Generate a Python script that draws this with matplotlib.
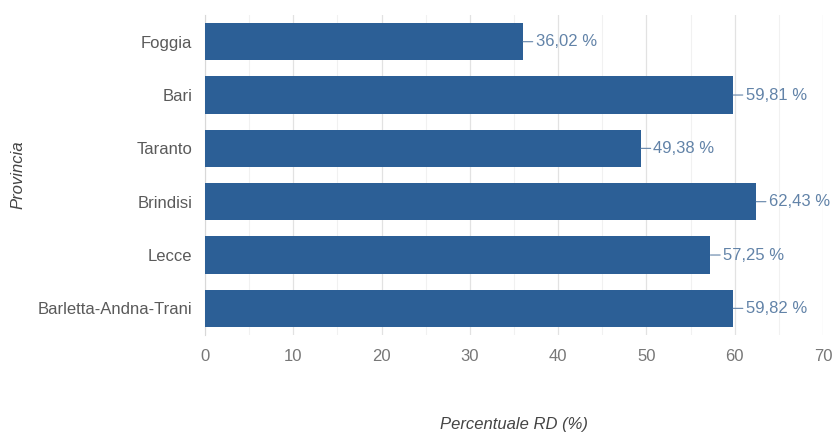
import numpy as np
import matplotlib.pyplot as plt
from matplotlib.ticker import MultipleLocator

province = ["Foggia", "Bari", "Taranto", "Brindisi", "Lecce", "Barletta-Andna-Trani"]
percentuale = [36.02, 59.81, 49.38, 62.43, 57.25, 59.82]

plt.rcParams['font.family'] = ['Liberation Sans', 'DejaVu Sans']

bar_color = '#2c5f96'
label_color = '#6283a8'
tick_color = '#777777'

fig = plt.figure(figsize=(8.37, 4.32), dpi=100)
ax = fig.add_axes([0.2449, 0.2245, 0.7384, 0.7407])

ypos = np.arange(len(province))
ax.barh(ypos, percentuale, height=0.7, color=bar_color, zorder=3)

for y, v in zip(ypos, percentuale):
    txt = f"{v:.2f}".replace('.', ',') + " %"
    ax.annotate(txt, xy=(v, y), xytext=(9, 0), textcoords='offset points',
                va='center', ha='left', fontsize=12, color=label_color,
                arrowprops=dict(arrowstyle='-', color=label_color, lw=0.8,
                                shrinkA=0, shrinkB=0))

ax.set_xlim(0, 70)
ax.set_ylim(len(province) - 0.5, -0.5)
ax.set_yticks(ypos)
ax.set_yticklabels(province)
ax.xaxis.set_major_locator(MultipleLocator(10))
ax.xaxis.set_minor_locator(MultipleLocator(5))

ax.grid(axis='x', which='major', color='#e2e2e2', lw=0.9, zorder=0)
ax.grid(axis='x', which='minor', color='#f1f1f1', lw=0.8, zorder=0)

for s in ['top', 'right', 'bottom']:
    ax.spines[s].set_visible(False)
ax.spines['left'].set_color('#d8d8d8')

ax.tick_params(axis='y', length=0, pad=9, labelsize=12, labelcolor='#5a5a5a')
ax.tick_params(axis='x', which='both', length=0, pad=10, labelsize=12, labelcolor=tick_color)

ax.set_xlabel("Percentuale RD (%)", fontsize=12, style='italic', color='#444444', va='center')
ax.xaxis.set_label_coords(0.5, -0.281)
ax.set_ylabel("Provincia", fontsize=12, style='italic', color='#444444', va='center')
ax.yaxis.set_label_coords(-0.303, 0.5)

fig.savefig("out.png", dpi=100)
